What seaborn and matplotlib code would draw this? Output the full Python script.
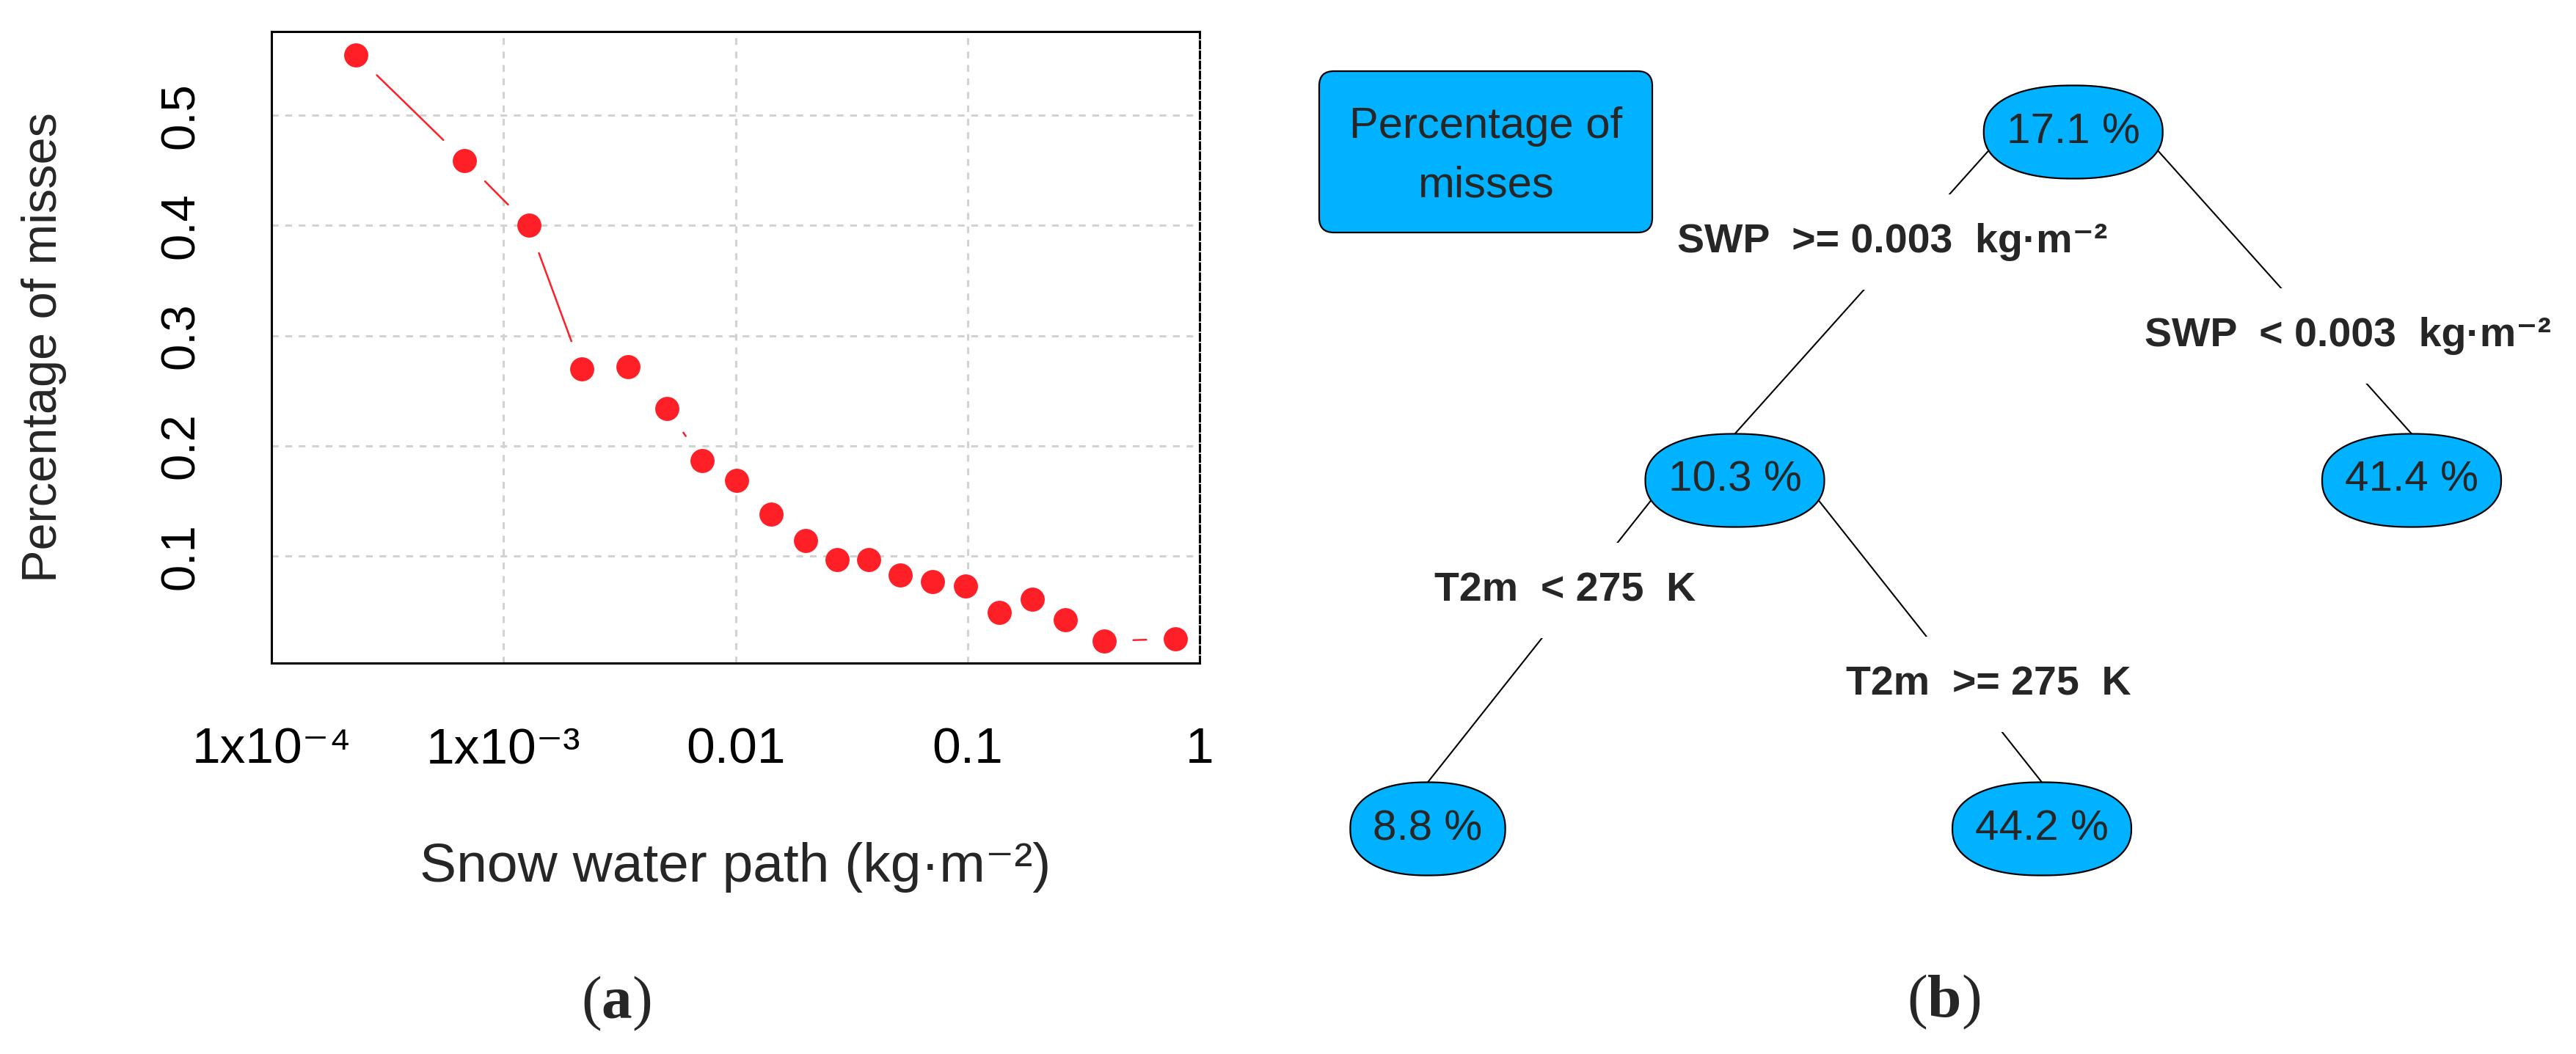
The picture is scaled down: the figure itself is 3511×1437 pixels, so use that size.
import numpy as np
import pandas as pd
import matplotlib
matplotlib.use('Agg')
import matplotlib.pyplot as plt
import seaborn as sns
from matplotlib.patches import Polygon, FancyBboxPatch
from matplotlib.ticker import NullLocator

# (a) share of misses per snow water path bin
swp = [2.31e-4, 6.78e-4, 1.285e-3, 2.17e-3, 3.45e-3, 5.05e-3, 7.2e-3, 0.0101, 0.0142, 0.0200,
       0.0274, 0.0376, 0.0512, 0.0708, 0.0977, 0.137, 0.190, 0.263, 0.387, 0.789]
misses = [0.555, 0.459, 0.400, 0.270, 0.272, 0.234, 0.187, 0.169, 0.138, 0.114,
          0.097, 0.097, 0.083, 0.077, 0.073, 0.049, 0.061, 0.042, 0.023, 0.025]
x_ticks = [1e-4, 1e-3, 1e-2, 1e-1, 1]
x_ticklabels = ['1x10⁻⁴', '1x10⁻³', '0.01', '0.1', '1']
y_ticks = [0.1, 0.2, 0.3, 0.4, 0.5]
y_ticklabels = ['0.1', '0.2', '0.3', '0.4', '0.5']

# (b) regression tree: node values, split labels
node_text = ['17.1 %', '10.3 %', '41.4 %', '8.8 %', '44.2 %']
split_text = ['SWP  >= 0.003  kg·m⁻²', 'SWP  < 0.003  kg·m⁻²', 'T2m  < 275  K', 'T2m  >= 275  K']
children = {0: (1, 2), 1: (3, 4)}
edge_split = {(0, 1): 0, (0, 2): 1, (1, 3): 2, (1, 4): 3}
legend_text = 'Percentage of\nmisses'

red = '#FF1F27'
blue = '#00B2FF'

sns.set_style('white')
plt.rcParams['font.family'] = ['Liberation Sans', 'DejaVu Sans']
plt.rcParams['mathtext.fontset'] = 'custom'
plt.rcParams['mathtext.rm'] = 'Liberation Serif'
plt.rcParams['mathtext.bf'] = 'Liberation Serif:bold'

W, H, DPI = 3511, 1437, 200
fig = plt.figure(figsize=(W / DPI, H / DPI), dpi=DPI)
fig.patch.set_facecolor('white')

# ---------- panel (a) ----------
ax = fig.add_axes([370 / W, 1 - 904 / H, 1265 / W, 861 / H])
df = pd.DataFrame({'swp': swp, 'misses': misses})
sns.scatterplot(data=df, x='swp', y='misses', ax=ax, color=red, s=140, linewidth=0, zorder=3)
ax.set_xscale('log')
ax.set_xlim(1e-4, 1)
ax.set_ylim(0.003, 0.576)
ax.xaxis.set_minor_locator(NullLocator())

# R style type="b": line pieces with a gap around each point
gap_px = 40
pts = ax.transData.transform(np.column_stack([swp, misses]))
inv = ax.transData.inverted()
for p0, p1 in zip(pts[:-1], pts[1:]):
    d = p1 - p0
    dist = np.hypot(*d)
    if dist <= 2 * gap_px:
        continue
    u = d / dist
    seg = inv.transform(np.array([p0 + u * gap_px, p1 - u * gap_px]))
    ax.plot(seg[:, 0], seg[:, 1], color=red, lw=0.9, zorder=2)

ax.set_xticks(x_ticks, labels=x_ticklabels)
ax.set_yticks(y_ticks, labels=y_ticklabels)
for lab in ax.get_yticklabels():
    lab.set_rotation(90)
    lab.set_va('center')
ax.tick_params(axis='x', direction='out', length=15, width=1.1, pad=16, labelsize=25, colors='black')
ax.tick_params(axis='y', direction='out', length=16.5, width=1.1, pad=17, labelsize=23.5, colors='black')
ax.grid(True, color='#D2D2D2', lw=1.1, ls=(0, (3, 3)))
for side in ['top', 'bottom', 'left']:
    ax.spines[side].set_color('black')
    ax.spines[side].set_linewidth(1.1)
ax.spines['right'].set_color('black')
ax.spines['right'].set_linewidth(1.1)
ax.spines['right'].set_linestyle((0, (3, 1.5)))

ax.set_xlabel('Snow water path (kg·m⁻²)', fontsize=27, va='center')
ax.xaxis.set_label_coords(0.5, -0.324)
ax.set_ylabel('Percentage of misses', fontsize=24, va='center')
ax.yaxis.set_label_coords(-0.245, 0.5)

fig.text(840 / W, 1 - 1368 / H, r'($\mathbf{a}$)', family='Liberation Serif',
         fontsize=30, ha='center', va='center')

# ---------- panel (b) ----------
axb = fig.add_axes([1750 / W, 0, 1761 / W, 1])
axb.set_xlim(1750, W)
axb.set_ylim(H, 0)
axb.axis('off')

# layout: leaf columns, level rows; parents centred over children
leaf_x = {3: 1946, 4: 2783, 2: 3287}
level_y0, level_dy = 180, 475
node_h = 127
depth = {0: 0, 1: 1, 2: 1, 3: 2, 4: 2}


def node_x(i):
    if i in leaf_x:
        return leaf_x[i]
    a, b = children[i]
    return (node_x(a) + node_x(b)) / 2


pos = {i: (node_x(i), level_y0 + depth[i] * level_dy) for i in range(len(node_text))}

renderer = fig.canvas.get_renderer()
node_w = {}
for i, txt in enumerate(node_text):
    cx, cy = pos[i]
    t = axb.text(cx, cy, txt, fontsize=21, ha='center', va='center', zorder=4)
    node_w[i] = t.get_window_extent(renderer).width + 62


def node_shape(cx, cy, w, h, n=2.3):
    t = np.linspace(0, 2 * np.pi, 720)
    c, s = np.cos(t), np.sin(t)
    x = cx + w / 2 * np.sign(c) * np.abs(c) ** (2 / n)
    y = cy + h / 2 * np.sign(s) * np.abs(s) ** (2 / n)
    return Polygon(np.column_stack([x, y]), closed=True, fc=blue, ec='black', lw=0.8, zorder=3)


for i in range(len(node_text)):
    axb.add_patch(node_shape(pos[i][0], pos[i][1], node_w[i], node_h))

for (p, c), k in edge_split.items():
    px, py = pos[p]
    cx, cy = pos[c]
    side = -1 if c == children[p][0] else 1
    ax_, ty = px + side * 0.38 * node_w[p], cy - node_h / 2
    axb.plot([ax_, cx], [py, ty], color='black', lw=0.75, zorder=1)
    ly = py + (150 if side < 0 else 278)
    lx = cx + (ax_ - cx) * (ly - ty) / (py - ty) + (-20 if side < 0 else 33)
    axb.text(lx, ly, split_text[k], fontsize=20, fontweight='bold', ha='center', va='center',
             zorder=2, bbox=dict(boxstyle='square,pad=0.7', fc='white', ec='none'))

axb.add_patch(FancyBboxPatch((1798, 97), 454, 220, boxstyle='round,pad=0,rounding_size=20',
                             fc=blue, ec='black', lw=0.8, zorder=3))
axb.text(2025, 213, legend_text, fontsize=21.5, ha='center', va='center', linespacing=1.6, zorder=4)

fig.text(2649 / W, 1 - 1366 / H, r'($\mathbf{b}$)', family='Liberation Serif',
         fontsize=30, ha='center', va='center')

fig.savefig('out.png', dpi=DPI)
